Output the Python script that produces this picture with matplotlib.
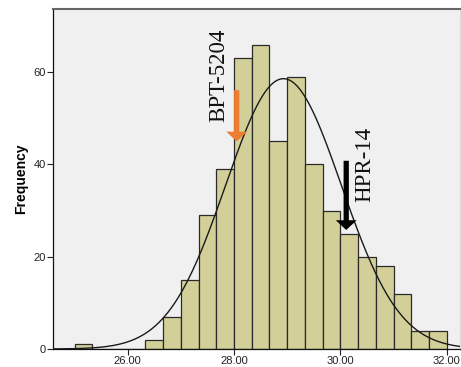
import numpy as np
import matplotlib
matplotlib.use("Agg")
import matplotlib.pyplot as plt

# ---- data ----
bin_left_edges = [25.0, 25.333, 25.667, 26.0, 26.333, 26.667, 27.0, 27.333, 27.667,
                  28.0, 28.333, 28.667, 29.0, 29.333, 29.667, 30.0, 30.333, 30.667,
                  31.0, 31.333, 31.667]
counts = [1, 0, 0, 0, 2, 7, 15, 29, 39, 63, 66, 45, 59, 40, 30, 25, 20, 18, 12, 4, 4]
bin_width = 1 / 3
fit_mean = 28.93
fit_sd = 1.087
x_ticks = [26, 28, 30, 32]
x_ticklabels = ["26.00", "28.00", "30.00", "32.00"]
y_ticks = [0, 20, 40, 60]

ann_bpt = {"label": "BPT-5204", "text_xy": (27.72, 59.4), "tail": (28.05, 56.1), "tip": (28.05, 45.0)}
ann_hpr = {"label": "HPR-14", "text_xy": (30.46, 39.9), "tail": (30.11, 40.8), "tip": (30.11, 25.8)}

plt.rcParams['font.family'] = ['Liberation Sans', 'DejaVu Sans']

fig = plt.figure(figsize=(4.61, 3.67), dpi=100)
ax = fig.add_axes([53 / 461, 18 / 367, (460 - 53) / 461, (349 - 9) / 367])
ax.set_facecolor('#f0f0f0')

ax.bar(bin_left_edges, counts, width=bin_width, align='edge',
       color='#d3cf99', edgecolor='#2a2a2a', linewidth=0.9, zorder=2)

N = sum(counts)
xs = np.linspace(24.6, 32.3, 400)
ys = N * bin_width / (fit_sd * np.sqrt(2 * np.pi)) * np.exp(-0.5 * ((xs - fit_mean) / fit_sd) ** 2)
ax.plot(xs, ys, color='#1a1a1a', lw=1.0, zorder=3)

ax.set_xlim(24.595, 32.25)
ax.set_ylim(0, 73.7)
ax.set_xticks(x_ticks)
ax.set_xticklabels(x_ticklabels)
ax.set_yticks(y_ticks)
ax.tick_params(axis='both', labelsize=8, length=4, width=0.8, colors='#222222', pad=1)
ax.set_ylabel('Frequency', fontsize=10, fontweight='bold', labelpad=4)

for s in ['left', 'bottom']:
    ax.spines[s].set_color('#111111')
    ax.spines[s].set_linewidth(0.9)
ax.spines['top'].set_color('#666666')
ax.spines['top'].set_linewidth(1.5)
ax.spines['right'].set_color('#dddddd')
ax.spines['right'].set_linewidth(0.8)

for ann, col in [(ann_bpt, '#ed7d31'), (ann_hpr, '#000000')]:
    ax.annotate('', xy=ann['tip'], xytext=ann['tail'],
                arrowprops=dict(arrowstyle='simple,head_length=7,head_width=15,tail_width=3.8',
                                mutation_scale=1, color=col, shrinkA=0, shrinkB=0, lw=0),
                zorder=5)
    ax.text(ann['text_xy'][0], ann['text_xy'][1], ann['label'], rotation=90,
            ha='center', va='center', fontsize=16.5,
            family=['Liberation Serif', 'DejaVu Serif'], color='#111111', zorder=6)

fig.savefig('out.png', dpi=100)
